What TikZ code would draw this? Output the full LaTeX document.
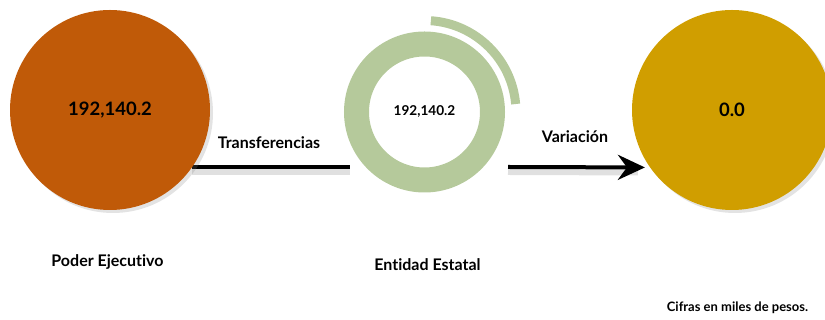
\documentclass[tikz,border=0pt]{standalone}
\usepackage{fontspec}
\setmainfont[Ligatures=NoCommon]{Lato}
\usepackage{tikz}
\usetikzlibrary{positioning,shadows,arrows.meta,backgrounds}
\definecolor{naranja}{HTML}{C05A08}
\definecolor{verde}{HTML}{B5C99B}
\definecolor{dorado}{HTML}{D09E00}

\begin{document}
\begin{tikzpicture}[
                x=1pt, y=1pt,
                every node/.style={font=\bfseries},
                bola/.style={circle, minimum size=200pt, inner sep=0pt,
                    font=\fontsize{18.5}{22}\selectfont\bfseries,
                    drop shadow={shadow xshift=3pt, shadow yshift=-3pt, opacity=.22}},
                etiqueta/.style={font=\fontsize{16}{19}\selectfont\bfseries},
                flecha/.style={draw, line width=4pt},
                sombra/.style={draw, line width=6pt, black, opacity=.12}
            ]
            \useasboundingbox (0,0) rectangle (825,320);
            \clip (0,0) rectangle (825,320);

            % Nodes
            \node [bola, fill=naranja] (poder) at (110,210) {192,140.2};
            \node [circle, draw=verde, line width=25pt, minimum size=136pt,
                font=\fontsize{13.6}{16}\selectfont\bfseries] (entidad) at (424.5,208) {192,140.2};
            \node [bola, fill=dorado] (variacion) at (732,210) {0.0};
            \draw [verde, line width=9pt] (entidad.center) ++(86:91.5) arc (86:5:91.5);

            \node [etiqueta] (lpoder) at (107.5,58) {Poder Ejecutivo};
            \node [etiqueta] (lentidad) at (427.5,55) {Entidad Estatal};
            \node [etiqueta] (ltransf) at (269,177) {Transferencias};
            \node [etiqueta] (lvaria) at (575,183) {Variación};
            \node [font=\fontsize{13}{15}\selectfont\bfseries] (nota) at (737.5,12) {Cifras en miles de pesos.};

            \coordinate (finT) at (350,153);
            \coordinate (iniV) at (508,153);

            % Arrows
            \begin{scope}[on background layer]
            \draw[sombra] ([yshift=-5pt]poder.-35) -- ([yshift=-5pt]poder.-35 -| finT);
            \draw[sombra] ([yshift=-5pt]iniV) -- ([yshift=-5pt, xshift=-12pt]variacion.215);
            \draw[flecha] (poder.-35) -- (poder.-35 -| finT);
            \end{scope}
            \draw[flecha, -{Stealth[length=27pt, width=25pt, inset=9pt]}, shorten >=5pt] (iniV) -- (variacion.215);

            \end{tikzpicture}
\end{document}
